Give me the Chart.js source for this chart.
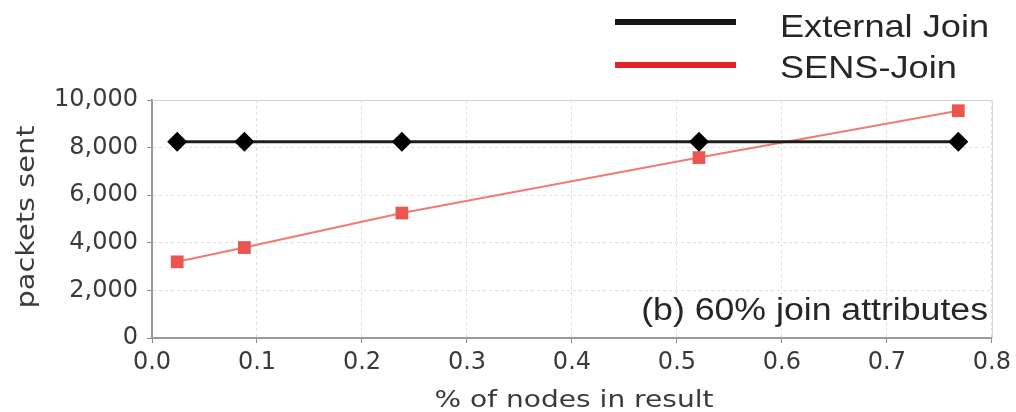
<!DOCTYPE html>
<html><head><meta charset="utf-8">
<script src="https://cdn.jsdelivr.net/npm/chart.js@4"></script>
<style>html,body{margin:0;padding:0;background:#fff}#wrap{width:1016px;height:412px}</style>
</head><body><div id="wrap"><canvas id="c" width="1016" height="412"></canvas></div>
<script>
// ---- data ----
const seriesNames = ['External Join', 'SENS-Join'];
const xExternal = [0.024, 0.088, 0.238, 0.521, 0.768];
const yExternal = [8250, 8250, 8250, 8250, 8250];
const xSens = [0.024, 0.088, 0.238, 0.521, 0.768];
const ySens = [3200, 3800, 5250, 7580, 9550];
const xTicks = [0.0, 0.1, 0.2, 0.3, 0.4, 0.5, 0.6, 0.7, 0.8];
const yTicks = [0, 2000, 4000, 6000, 8000, 10000];
const xTitle = '% of nodes in result';
const yTitle = 'packets sent';
const noteText = '(b) 60% join attributes';

const legendColors = ['#161616', '#e2242a'];

function drawStretched(ctx, text, x, y, font, sx, align, color) {
  ctx.save();
  ctx.font = font;
  ctx.fillStyle = color;
  ctx.textBaseline = 'alphabetic';
  const w = ctx.measureText(text).width * sx;
  let left = x;
  if (align === 'center') left = x - w / 2;
  else if (align === 'right') left = x - w;
  ctx.translate(left, y);
  ctx.scale(sx, 1);
  ctx.textAlign = 'left';
  ctx.fillText(text, 0, 0);
  ctx.restore();
}

const decor = {
  id: 'decor',
  beforeDatasetsDraw(chart) {
    const {ctx, chartArea: a} = chart;
    ctx.save();
    ctx.strokeStyle = '#d4d4d4';
    ctx.lineWidth = 1;
    ctx.beginPath();
    ctx.moveTo(a.left, a.top + 0.5);
    ctx.lineTo(a.right + 0.5, a.top + 0.5);
    ctx.lineTo(a.right + 0.5, a.bottom);
    ctx.stroke();
    ctx.restore();
  },
  afterDraw(chart) {
    const ctx = chart.ctx;
    // legend
    const ds = chart.data.datasets;
    const rows = [{y: 22, base: 37}, {y: 65, base: 78}];
    ds.forEach((d, i) => {
      ctx.save();
      ctx.strokeStyle = legendColors[i];
      ctx.lineWidth = 6;
      ctx.beginPath();
      ctx.moveTo(615, rows[i].y);
      ctx.lineTo(736, rows[i].y);
      ctx.stroke();
      ctx.restore();
      drawStretched(ctx, d.label, 780, rows[i].base, '32px "Liberation Sans", Arial, sans-serif', 1.13, 'left', '#262626');
    });
    // annotation
    drawStretched(ctx, noteText, 988, 320, '31px "Liberation Sans", Arial, sans-serif', 1.15, 'right', '#262626');
    // x title
    drawStretched(ctx, xTitle, 574, 407, '23px "DejaVu Sans", sans-serif', 1.22, 'center', '#3a3a3a');
    // y title
    ctx.save();
    ctx.translate(34, 217);
    ctx.rotate(-Math.PI / 2);
    drawStretched(ctx, yTitle, 0, 0, '24px "DejaVu Sans", sans-serif', 1.2, 'center', '#3a3a3a');
    ctx.restore();
  }
};

new Chart(document.getElementById('c'), {
  type: 'line',
  data: {
    datasets: [
      {
        label: seriesNames[0],
        data: xExternal.map((x, i) => ({x, y: yExternal[i]})),
        borderColor: '#1c1c1c',
        borderWidth: 3,
        pointStyle: 'rectRot',
        pointRadius: 10,
        pointBackgroundColor: '#000',
        pointBorderColor: '#000',
        pointBorderWidth: 0,
        tension: 0
      },
      {
        label: seriesNames[1],
        data: xSens.map((x, i) => ({x, y: ySens[i]})),
        borderColor: '#f07a76',
        borderWidth: 2,
        pointStyle: 'rect',
        pointRadius: 9,
        pointBackgroundColor: '#ea5550',
        pointBorderColor: '#ea5550',
        pointBorderWidth: 0,
        tension: 0
      }
    ]
  },
  options: {
    responsive: false,
    animation: false,
    devicePixelRatio: 1,
    layout: {padding: {left: 0, top: 100, right: 24, bottom: 0}},
    plugins: {legend: {display: false}, tooltip: {enabled: false}},
    scales: {
      x: {
        type: 'linear', min: 0, max: 0.8,
        afterBuildTicks: s => { s.ticks = xTicks.map(v => ({value: v})); },
        afterFit: s => { s.height = 74; },
        ticks: {
          callback: v => Number(v).toFixed(1),
          font: {family: '"DejaVu Sans", sans-serif', size: 24},
          color: '#3a3a3a', padding: 5, maxRotation: 0, autoSkip: false
        },
        grid: {color: '#dedede', tickColor: '#8a8a8a', tickLength: 5, lineWidth: 1},
        border: {color: '#9a9a9a', width: 2, dash: [3, 3]},
        title: {display: false}
      },
      y: {
        type: 'linear', min: 0, max: 10000,
        afterBuildTicks: s => { s.ticks = yTicks.map(v => ({value: v})); },
        afterFit: s => { s.width = 152; },
        ticks: {
          callback: v => Number(v).toLocaleString('en-US'),
          font: {family: '"DejaVu Sans", sans-serif', size: 24},
          color: '#3a3a3a', padding: 9
        },
        grid: {color: '#dedede', tickColor: '#8a8a8a', tickLength: 5, lineWidth: 1},
        border: {color: '#9a9a9a', width: 2, dash: [3, 3]},
        title: {display: false}
      }
    }
  },
  plugins: [decor]
});
</script></body></html>
